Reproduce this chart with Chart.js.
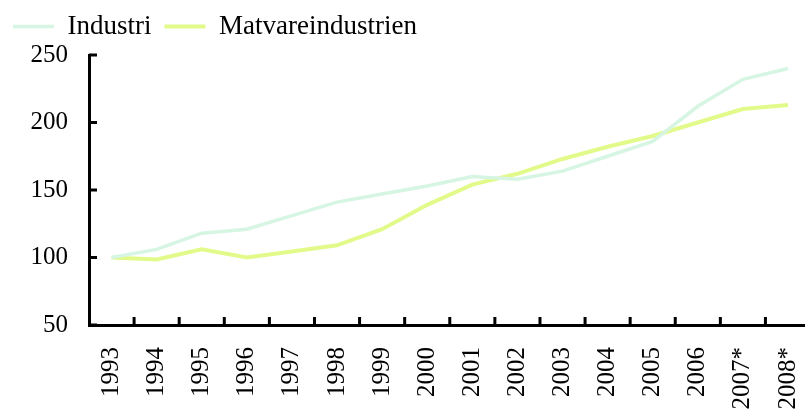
<!DOCTYPE html>
<html>
<head>
<meta charset="utf-8">
<script src="https://cdn.jsdelivr.net/npm/chart.js@4.4.1/dist/chart.umd.min.js"></script>
<style>
  body { margin: 0; background: #fff; }
  #wrap { width: 805px; height: 412px; overflow: hidden; position: relative; }
  #chart { display: block; }
</style>
</head>
<body>
<div id="wrap"><canvas id="chart" width="840" height="412"></canvas></div>
<script>
// years (2007 and 2008 are estimates, marked with *)
var years = ['1993','1994','1995','1996','1997','1998','1999','2000','2001','2002','2003','2004','2005','2006','2007*','2008*'];
var industri = [100, 106, 118, 121, 131, 141, 147, 153, 160, 158, 164, 175, 186, 212, 232, 240];
var matvare = [100, 98.5, 106, 100, 104.5, 109, 121, 139, 154, 162, 173, 182, 190, 200, 210, 213];
var yTicks = [50, 100, 150, 200, 250];

var mint = '#d6f5e3';
var lime = '#e2fa8a';
var fnt = { family: 'Liberation Serif', size: 25 };

// small tick marks pointing into the plot, like the original
var innerTicks = {
    id: 'innerTicks',
    afterDraw: function (chart) {
        var ctx = chart.ctx;
        var x = chart.scales.x, y = chart.scales.y;
        var a = chart.chartArea;
        ctx.save();
        ctx.strokeStyle = '#000';
        ctx.lineWidth = 3;
        ctx.beginPath();
        for (var i = 0; i < yTicks.length; i++) {
            var py = y.getPixelForValue(yTicks[i]);
            ctx.moveTo(a.left, py);
            ctx.lineTo(a.left + 8, py);
        }
        for (var j = 1; j <= years.length; j++) {
            var px = x.getPixelForValue(j - 0.5);
            ctx.moveTo(px, a.bottom);
            ctx.lineTo(px, a.bottom - 8);
        }
        ctx.stroke();
        ctx.restore();
    }
};

// a bit more room under the legend, so the plot starts lower
var legendGap = {
    id: 'legendGap',
    beforeLayout: function (chart) {
        var lg = chart.legend;
        if (lg && !lg._gapDone) {
            var fit = lg.fit;
            lg.fit = function () {
                fit.call(this);
                this.height += 5;
            };
            lg._gapDone = true;
        }
    }
};

var ctx = document.getElementById('chart').getContext('2d');
var chart = new Chart(ctx, {
    type: 'line',
    data: {
        labels: years,
        datasets: [{
            label: 'Industri',
            data: industri,
            borderColor: mint,
            backgroundColor: mint,
            borderWidth: 3.5,
            pointRadius: 0,
            tension: 0
        }, {
            label: 'Matvareindustrien',
            data: matvare,
            borderColor: lime,
            backgroundColor: lime,
            borderWidth: 4,
            pointRadius: 0,
            tension: 0
        }]
    },
    options: {
        responsive: false,
        animation: false,
        layout: { padding: { left: 0, right: 0, top: 0, bottom: 0 } },
        plugins: {
            legend: {
                display: true,
                position: 'top',
                align: 'start',
                labels: {
                    font: { family: 'Liberation Serif', size: 27 },
                    color: '#000',
                    usePointStyle: true,
                    pointStyle: 'line',
                    pointStyleWidth: 41,
                    boxHeight: 4,
                    padding: 13
                }
            },
            tooltip: { enabled: false }
        },
        scales: {
            x: {
                offset: true,
                grid: { display: false, drawTicks: false },
                border: { display: true, color: '#000', width: 3 },
                afterFit: function (scale) { scale.height = 87; },
                ticks: {
                    font: fnt,
                    color: '#000',
                    minRotation: 90,
                    maxRotation: 90,
                    padding: 22,
                    autoSkip: false
                }
            },
            y: {
                min: 50,
                max: 250,
                grid: { display: false, drawTicks: false },
                border: { display: true, color: '#000', width: 3 },
                afterFit: function (scale) { scale.width = 89; },
                afterBuildTicks: function (scale) {
                    scale.ticks = yTicks.map(function (v) { return { value: v }; });
                },
                ticks: {
                    font: fnt,
                    color: '#000',
                    padding: 21
                }
            }
        }
    },
    plugins: [innerTicks, legendGap]
});
</script>
</body>
</html>
